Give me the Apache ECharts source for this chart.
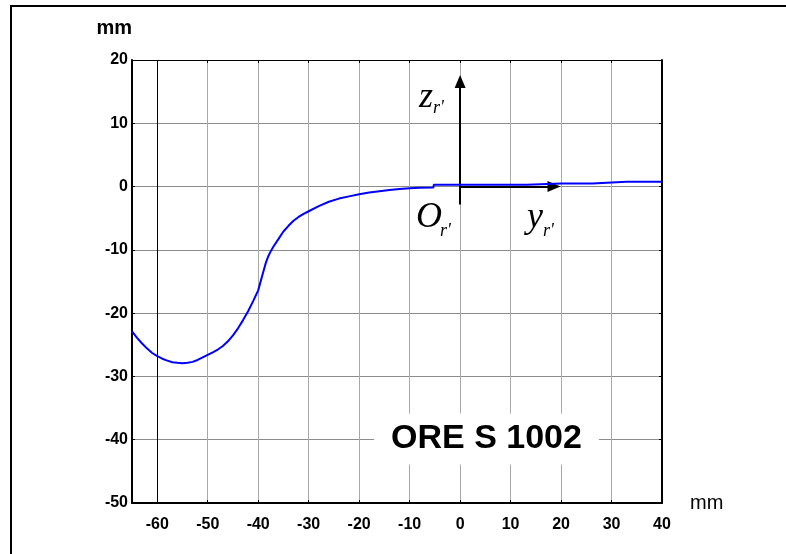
<!DOCTYPE html>
<html>
<head>
<meta charset="utf-8">
<script src="https://cdn.jsdelivr.net/npm/echarts@6/dist/echarts.min.js"></script>
<style>
  html, body { margin: 0; padding: 0; background: #fff; }
  #chart { width: 786px; height: 554px; }
</style>
</head>
<body>
<div id="chart"></div>
<script>
// Rail profile (ORE S 1002), lateral position y vs. height z, both in mm
const profileY = [-65, -64, -63, -62, -61, -60, -59, -58, -57, -56, -55, -54, -53, -52, -51, -50,
  -49, -48, -47, -46, -45, -44, -43, -42, -41, -40, -39, -38.5, -38, -37.5, -37, -36, -35, -34, -33, -32, -31,
  -30, -28, -26, -24, -22, -20, -18, -16, -14, -12, -10, -8, -5.3, -5.2, 0, 5, 13.2, 13.3, 20, 26.2, 26.3, 33, 40];
const profileZ = [-22.9, -23.9, -24.8, -25.6, -26.3, -26.8, -27.2, -27.5, -27.75, -27.85, -27.9, -27.85, -27.7, -27.4, -27.0, -26.6,
  -26.2, -25.75, -25.2, -24.45, -23.5, -22.4, -21.1, -19.7, -18.1, -16.4, -13.5, -12.1, -11.0, -10.2, -9.5, -8.3, -7.1, -6.2, -5.4, -4.8, -4.3,
  -3.9, -3.1, -2.4, -1.9, -1.55, -1.2, -0.95, -0.75, -0.55, -0.4, -0.28, -0.2, -0.15, 0.3, 0.3, 0.3, 0.3, 0.47, 0.47, 0.47, 0.75, 0.75, 0.75];

// Axis ranges and tick labels
const xRange = [-65, 40];
const xTicks = [-60, -50, -40, -30, -20, -10, 0, 10, 20, 30, 40];
const yRange = [-50, 20];
const yStep = 10;

// Local frame arrows at the origin O_r'
const zArrow = [[0, -2.85], [0, 16.6]];
const yArrow = [[0, 0], [18.6, 0]];
const refLineX = -60;

const profileName = 'ORE S 1002';

const chart = echarts.init(document.getElementById('chart'), null, { renderer: 'canvas' });

const sans = '"Liberation Sans", Arial, Helvetica, sans-serif';
const serif = '"Liberation Serif", "Times New Roman", serif';
const tickFont = { color: '#000', fontFamily: sans, fontWeight: 'bold', fontSize: 16 };

const option = {
  animation: false,
  backgroundColor: '#fff',
  grid: { left: 132, right: 124, top: 60, bottom: 51, show: false },
  xAxis: [
    {
      type: 'value', min: xRange[0], max: xRange[1],
      name: 'mm', nameLocation: 'end', nameGap: 28,
      nameTextStyle: { color: '#000', fontFamily: sans, fontSize: 20, verticalAlign: 'middle', padding: [32, 0, 0, 0] },
      axisLine: { onZero: false, lineStyle: { color: '#000', width: 2 } },
      axisTick: { show: true, inside: true, length: 3, customValues: xTicks, lineStyle: { color: '#000' } },
      axisLabel: { customValues: xTicks, margin: 14, ...tickFont },
      splitLine: { show: true, lineStyle: { color: '#a8a8a8', width: 1 } }
    },
    {
      type: 'value', min: xRange[0], max: xRange[1], position: 'top',
      axisLine: { onZero: false, lineStyle: { color: '#000', width: 1 } },
      axisTick: { show: true, inside: true, length: 3, customValues: xTicks, lineStyle: { color: '#000' } },
      axisLabel: { show: false },
      splitLine: { show: false }
    }
  ],
  yAxis: [
    {
      type: 'value', min: yRange[0], max: yRange[1], interval: yStep,
      name: 'mm', nameLocation: 'end', nameGap: 32,
      nameTextStyle: { color: '#000', fontFamily: sans, fontWeight: 'bold', fontSize: 20, align: 'right', verticalAlign: 'middle' },
      axisLine: { onZero: false, lineStyle: { color: '#000', width: 2 } },
      axisTick: { show: true, inside: true, length: 3, lineStyle: { color: '#000' } },
      axisLabel: { margin: 4, ...tickFont },
      splitLine: { show: true, lineStyle: { color: '#8c8c8c', width: 1 } }
    },
    {
      type: 'value', min: yRange[0], max: yRange[1], interval: yStep, position: 'right',
      axisLine: { onZero: false, lineStyle: { color: '#000', width: 2 } },
      axisTick: { show: true, inside: true, length: 3, lineStyle: { color: '#000' } },
      axisLabel: { show: false },
      splitLine: { show: false }
    }
  ],
  series: [
    {
      type: 'line',
      name: profileName,
      xAxisIndex: 0, yAxisIndex: 0,
      data: profileY.map((v, i) => [v, profileZ[i]]),
      showSymbol: false,
      smooth: false,
      lineStyle: { color: '#0000ff', width: 2 },
      z: 5,
      markLine: {
        silent: true,
        symbol: ['none', 'none'],
        label: { show: false },
        lineStyle: { color: '#000', width: 1, type: 'solid' },
        data: [{ xAxis: refLineX }],
        z: 3
      }
    },
    {
      type: 'line',
      name: 'frame',
      xAxisIndex: 0, yAxisIndex: 0,
      data: [],
      z: 6,
      markLine: {
        silent: true,
        symbol: ['none', 'triangle'],
        symbolSize: [11, 13],
        label: { show: false },
        lineStyle: { color: '#000', width: 2, type: 'solid' },
        data: [
          [{ coord: zArrow[0] }, { coord: zArrow[1] }],
          [{ coord: yArrow[0] }, { coord: yArrow[1] }]
        ]
      }
    }
  ],
  graphic: [
    {
      type: 'rect', z: 0, silent: true,
      shape: { x: 11, y: 6, width: 800, height: 600 },
      style: { fill: 'none', stroke: '#000', lineWidth: 2 }
    },
    // frame axis labels: z_r', O_r', y_r'
    { type: 'text', z: 10, x: 419, y: 98, style: { text: 'z', font: 'italic 36px ' + serif, fill: '#000', verticalAlign: 'middle' } },
    { type: 'text', z: 10, x: 433, y: 108, style: { text: "r'", font: 'italic 18px ' + serif, fill: '#000', verticalAlign: 'middle' } },
    { type: 'text', z: 10, x: 416, y: 218, style: { text: 'O', font: 'italic 36px ' + serif, fill: '#000', verticalAlign: 'middle' } },
    { type: 'text', z: 10, x: 440, y: 231, style: { text: "r'", font: 'italic 18px ' + serif, fill: '#000', verticalAlign: 'middle' } },
    { type: 'text', z: 10, x: 527, y: 218, style: { text: 'y', font: 'italic 36px ' + serif, fill: '#000', verticalAlign: 'middle' } },
    { type: 'text', z: 10, x: 543, y: 231, style: { text: "r'", font: 'italic 18px ' + serif, fill: '#000', verticalAlign: 'middle' } },
    {
      type: 'text', z: 10, x: 486.5, y: 439,
      style: {
        text: profileName, font: 'bold 34px ' + sans, fill: '#000',
        align: 'center', verticalAlign: 'middle',
        backgroundColor: '#fff', padding: [9, 17, 8, 17]
      }
    }
  ]
};

chart.setOption(option);
</script>
</body>
</html>
